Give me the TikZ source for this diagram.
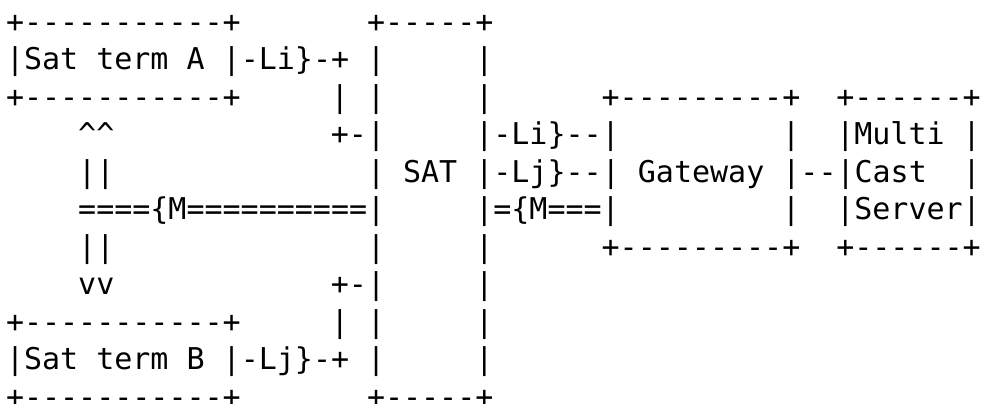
\documentclass[tikz,border=0pt]{standalone}
\usepackage{fontspec}
\setmonofont{DejaVu Sans Mono}

\begin{document}
\begin{tikzpicture}[
    x=9.025pt, y=-18.75pt,
    txt/.style={anchor=base west, inner sep=0pt, outer sep=0pt,
        font=\ttfamily\fontsize{15}{18}\selectfont}
]
    \useasboundingbox (0,0) rectangle (490.5pt,-201.5pt);
    \begin{scope}[shift={(3pt,2.75pt)}]
    % satellite terminal A and its link
    \node[txt] (termAtop) at (0,1) {+-----------+};
    \node[txt] (termA)    at (0,2) {|Sat term A |-Li\}-+ |};
    \node[txt] (termAbot) at (0,3) {+-----------+};
    \node[txt] (linkA)    at (18,3) {| |};
    \node[txt] (linkAend) at (18,4) {+-|};

    % multicast path between the terminals
    \node[txt] (up)    at (4,4) {\textasciicircum\textasciicircum};
    \node[txt] (upbar) at (4,5) {||};
    \node[txt] (mcast) at (4,6) {====\{M==========|};
    \node[txt] (dnbar) at (4,7) {||};
    \node[txt] (down)  at (4,8) {vv};

    % satellite
    \node[txt] (sattop) at (20,1) {+-----+};
    \node[txt] (satB)   at (20,7) {|};
    \node[txt] (sat)    at (20,5) {| SAT |-Lj\}--| Gateway |--|Cast};
    \node[txt] (satbot) at (20,11) {+-----+};
    \foreach \r in {2,3,7,8,9,10}
        \node[txt] (satR\r) at (26,\r) {|};

    % gateway and multicast server
    \node[txt] (gwtop)  at (33,3) {+---------+};
    \node[txt] (gwLi)   at (26,4) {|-Li\}--|};
    \node[txt] (gwM)    at (26,6) {|=\{M===|};
    \node[txt] (gwR4)   at (43,4) {|};
    \node[txt] (gwR6)   at (43,6) {|};
    \node[txt] (gwbot)  at (33,7) {+---------+};
    \node[txt] (srvtop) at (46,3) {+------+};
    \node[txt] (srv1)   at (46,4) {|Multi |};
    \node[txt] (srv2)   at (53,5) {|};
    \node[txt] (srv3)   at (46,6) {|Server|};
    \node[txt] (srvbot) at (46,7) {+------+};

    % satellite terminal B and its link
    \node[txt] (linkBend) at (18,8) {+-|};
    \node[txt] (linkB)    at (18,9) {| |};
    \node[txt] (termBtop) at (0,9) {+-----------+};
    \node[txt] (termB)    at (0,10) {|Sat term B |-Lj\}-+ |};
    \node[txt] (termBbot) at (0,11) {+-----------+};
    \end{scope}
\end{tikzpicture}
\end{document}
